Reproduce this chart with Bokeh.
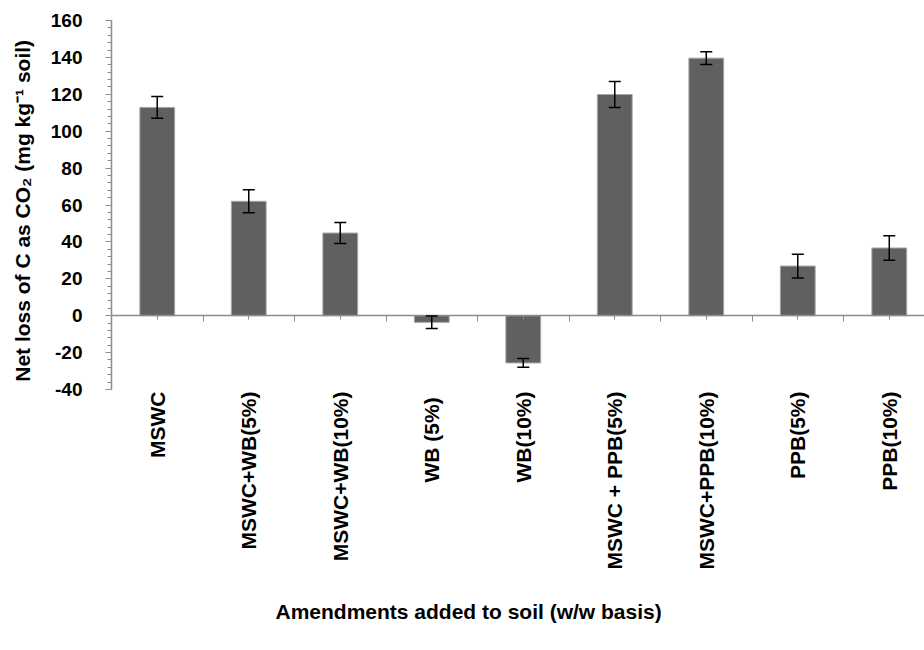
import numpy as np
from bokeh.plotting import figure
from bokeh.models import (ColumnDataSource, Range1d, LinearAxis, FixedTicker,
                          Whisker, TeeHead, Title)
from bokeh.embed import file_html
from bokeh.resources import INLINE

# ---- data ----
categories = ["MSWC", "MSWC+WB(5%)", "MSWC+WB(10%)", "WB  (5%)", "WB(10%)",
              "MSWC + PPB(5%)", "MSWC+PPB(10%)", "PPB(5%)", "PPB(10%)"]
net_loss = [112.9, 62.0, 44.8, -3.6, -25.6, 119.9, 139.6, 26.9, 36.7]
error = [5.9, 6.2, 5.7, 3.4, 2.4, 7.0, 3.4, 6.4, 6.6]
y_ticks = [-40, -20, 0, 20, 40, 60, 80, 100, 120, 140, 160]
y_tick_labels = ["-40", "-20", "0", "20", "40", "60", "80", "100", "120", "140", "160"]
x_title = "Amendments added to soil (w/w basis)"
y_title = "Net loss of C as CO\u2082  (mg  kg\u207b\u00b9 soil)"

FONT = "Liberation Sans"
AXIS_GRAY = "#8c8c8c"

xs = list(range(len(categories)))
src = ColumnDataSource(dict(
    x=xs,
    y=net_loss,
    upper=[v + e for v, e in zip(net_loss, error)],
    lower=[v - e for v, e in zip(net_loss, error)],
))

p = figure(width=924, height=650,
           x_range=Range1d(-0.5, 8.385), y_range=Range1d(-40, 160),
           output_backend="svg", toolbar_location=None,
           min_border_left=111, min_border_right=0,
           min_border_top=20, min_border_bottom=261,
           outline_line_color=None, background_fill_color="white")
p.xgrid.visible = False
p.ygrid.visible = False

p.vbar(x="x", top="y", bottom=0, width=0.38, source=src,
       fill_color="#606060", line_color="#a6a6a6", line_width=1)

wh = Whisker(base="x", upper="upper", lower="lower", source=src,
             line_color="black", line_width=1.5,
             upper_head=TeeHead(size=12, line_color="black", line_width=1.5),
             lower_head=TeeHead(size=12, line_color="black", line_width=1.5))
wh.level = "overlay"
p.add_layout(wh)

# zero-line axis with ticks only
boundaries = [i - 0.5 for i in range(len(categories) + 1)]
ax0 = p.xaxis[0]
ax0.fixed_location = 0
ax0.ticker = FixedTicker(ticks=xs, minor_ticks=boundaries)
ax0.major_label_overrides = {i: "" for i in xs}
ax0.axis_line_color = AXIS_GRAY
ax0.axis_line_width = 1.5
ax0.major_tick_line_color = AXIS_GRAY
ax0.minor_tick_line_color = AXIS_GRAY
ax0.major_tick_in = 0
ax0.major_tick_out = 4
ax0.minor_tick_in = 0
ax0.minor_tick_out = 6

# label axis at the bottom
ax_lab = LinearAxis(ticker=FixedTicker(ticks=xs),
                    major_label_overrides={i: c for i, c in zip(xs, categories)},
                    axis_line_color=None, major_tick_line_color=None,
                    minor_tick_line_color=None,
                    major_label_orientation=np.pi / 2,
                    major_label_standoff=-4,
                    major_label_text_font=FONT,
                    major_label_text_font_style="bold",
                    major_label_text_font_size="21px",
                    major_label_text_color="black")
p.add_layout(ax_lab, "below")

# x title, shifted to sit where the reference has it
p.add_layout(Title(text=x_title, align="left", offset=164, standoff=50,
                   text_font=FONT, text_font_style="bold",
                   text_font_size="21px", text_color="black"), "below")

# y axis
ay = p.yaxis[0]
ay.ticker = FixedTicker(ticks=y_ticks, minor_ticks=list(np.arange(-40, 161, 4)))
ay.major_label_overrides = {t: l for t, l in zip(y_ticks, y_tick_labels)}
ay.axis_line_color = AXIS_GRAY
ay.axis_line_width = 1.5
ay.major_tick_line_color = AXIS_GRAY
ay.minor_tick_line_color = AXIS_GRAY
ay.major_tick_in = 0
ay.major_tick_out = 6
ay.minor_tick_in = 0
ay.minor_tick_out = 4
ay.major_label_standoff = 23
ay.major_label_text_font = FONT
ay.major_label_text_font_style = "bold"
ay.major_label_text_font_size = "19px"
ay.major_label_text_color = "black"
ay.axis_label = y_title
ay.axis_label_text_font = FONT
ay.axis_label_text_font_style = "bold"
ay.axis_label_text_font_size = "21px"
ay.axis_label_text_color = "black"
ay.axis_label_standoff = 14

open("out.html", "w").write(file_html(p, INLINE))
